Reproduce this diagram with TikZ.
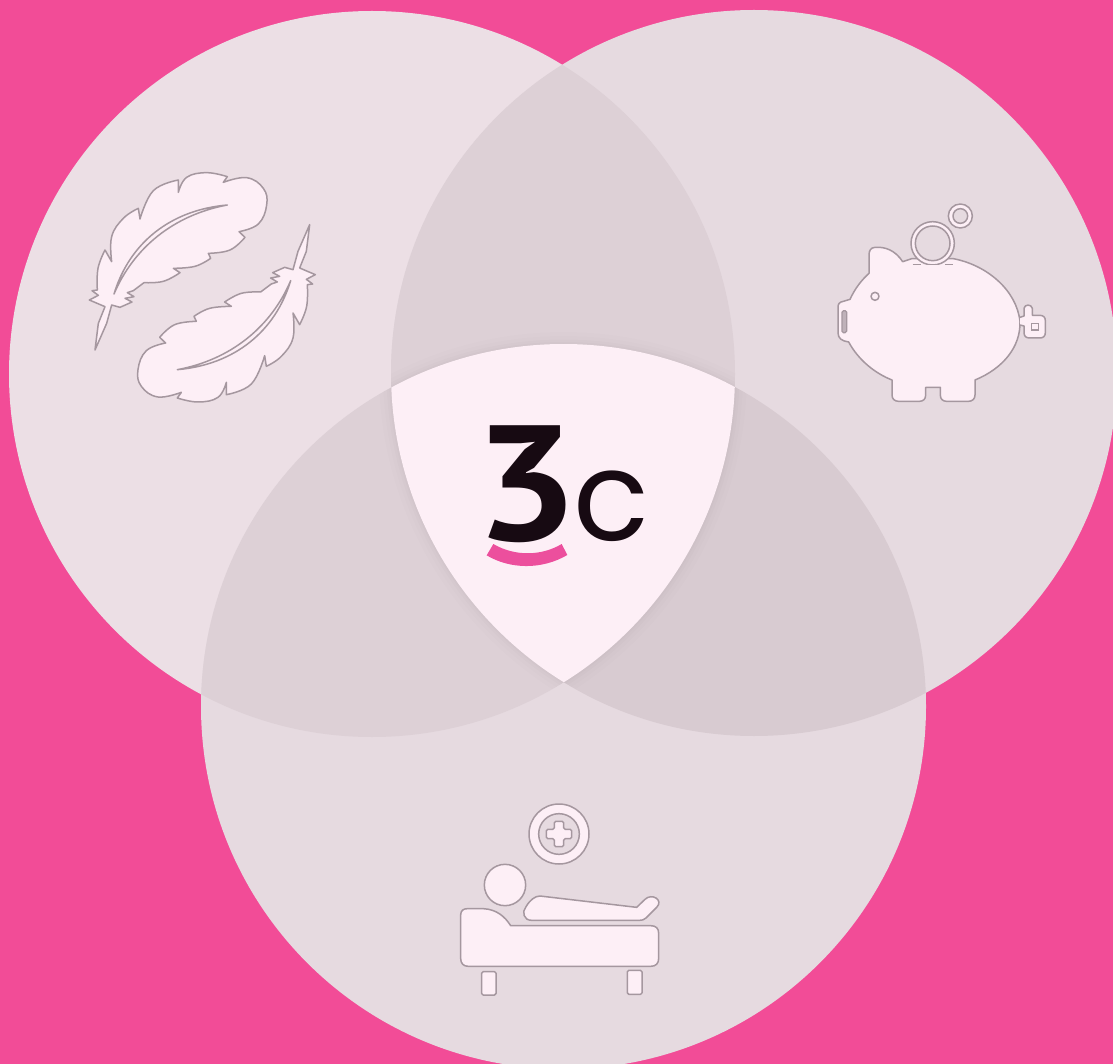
\documentclass[tikz,border=0pt]{standalone}
\usepackage{fontspec}
\setmainfont{Poppins}
\newfontfamily\threefont{PT Sans}
\definecolor{bgpink}{HTML}{F24C97}
\definecolor{leftc}{HTML}{ECDFE5}
\definecolor{rightc}{HTML}{E6DAE0}
\definecolor{overA}{HTML}{DDD0D6}
\definecolor{overB}{HTML}{D8CBD1}
\definecolor{pale}{HTML}{FDEFF6}
\definecolor{ink}{HTML}{A5979F}
\definecolor{logoink}{HTML}{170A12}
\definecolor{smile}{HTML}{EC4F9D}
\tikzset{icon/.style={draw=ink,fill=pale,line width=1.5pt,line join=round},
  zoomA/.style={shift={(70,150)},scale=1/3},
  zoomB/.style={shift={(820,190)},scale=1/3},
  zoomC/.style={shift={(440,790)},scale=1/3},
  zoomD/.style={shift={(460,400)},scale=1/3}}
\newcommand{\circA}{(372,374) circle[radius=363pt]}
\newcommand{\circB}{(754,373) circle[radius=363pt]}
\newcommand{\circC}{(563.5,706.5) circle[radius=362.5pt]}
\newcommand{\featherdrawing}{%
  \path[icon] (75,600) -- (85,520) -- (105,470) -- (58,450) -- (85,436) -- (66,422) -- (82,420)
    -- plot[smooth,tension=.7] coordinates {(82,420) (84,355) (105,300)} -- (125,335)
    -- plot[smooth,tension=.7] coordinates {(125,335) (125,260) (160,205) (205,175)} -- (210,207)
    -- plot[smooth,tension=.7] coordinates {(210,207) (250,122) (325,90)} -- (325,127)
    -- plot[smooth,tension=.7] coordinates {(325,127) (350,82) (410,68) (472,80)} -- (460,97)
    -- plot[smooth,tension=.7] coordinates {(460,97) (530,83) (580,115) (590,165) (565,222) (507,245)} -- (525,262)
    -- plot[smooth,tension=.7] coordinates {(525,262) (480,300) (415,310)} -- (422,325)
    -- plot[smooth,tension=.7] coordinates {(422,325) (375,349) (310,355)} -- (330,368)
    -- plot[smooth,tension=.7] coordinates {(330,368) (280,394) (222,398)} -- (190,422) -- (172,428) -- (192,440) -- (165,445) -- (186,456) -- (150,472) -- (125,465)
    -- (110,520) -- cycle;
  \path[icon] (132,432) .. controls (178,280) and (300,180) .. (472,165)
    .. controls (310,195) and (190,295) .. cycle;}
\begin{document}
\begin{tikzpicture}[x=1pt,y=-1pt]
\useasboundingbox (0,0) rectangle (1113,1064);
\fill[bgpink] (0,0) rectangle (1113,1064);
% circles
\fill[leftc] \circA;
\fill[rightc] \circB;
\fill[rightc] \circC;
\begin{scope}\clip \circA; \fill[overA] \circB; \fill[overA] \circC; \end{scope}
\begin{scope}\clip \circB; \fill[overB] \circC; \end{scope}
% soft shadow round the centre and the centre
\foreach \w/\o in {24/.008,16/.009,9/.01,4/.012}{
  \begin{scope}\clip \circA; \clip \circB; \draw[black,opacity=\o,line width=\w pt] \circC; \end{scope}
  \begin{scope}\clip \circA; \clip \circC; \draw[black,opacity=\o,line width=\w pt] \circB; \end{scope}
  \begin{scope}\clip \circB; \clip \circC; \draw[black,opacity=\o,line width=\w pt] \circA; \end{scope}
}
\begin{scope}\clip \circA; \clip \circB; \fill[pale] \circC; \end{scope}
% feathers
\begin{scope}[zoomA] \featherdrawing \end{scope}
\begin{scope}[zoomA,rotate around={180:(397,412)}] \featherdrawing \end{scope}
% piggy
\begin{scope}[zoomB]
  \path[icon] (70,334) .. controls (58,336) and (54,342) .. (54,352) -- (54,428)
    .. controls (54,445) and (65,453) .. (86,456)
    .. controls (115,510) and (165,550) .. (216,570) -- (216,615)
    .. controls (216,627) and (224,634) .. (236,634) -- (298,634)
    .. controls (310,634) and (317,627) .. (317,615) -- (317,592) -- (361,592) -- (361,615)
    .. controls (361,627) and (368,634) .. (380,634) -- (445,634)
    .. controls (457,634) and (465,627) .. (465,615) -- (465,570)
    .. controls (550,535) and (602,470) .. (600,395)
    .. controls (590,300) and (500,225) .. (400,206) -- (275,206) -- (248,215)
    .. controls (225,180) and (195,170) .. (165,172)
    .. controls (152,173) and (147,182) .. (147,195) -- (147,250)
    .. controls (125,270) and (105,295) .. (90,328) -- cycle;
  \path[icon] (165,319) circle[radius=12pt];
  \draw[ink,fill=ink!70!pale,line width=1.2pt,rounded corners=1.5pt] (66,362) rectangle (80,428);
  \path[icon] (600,382) -- (612,378) -- (612,355) .. controls (614,342) and (634,342) .. (637,355) -- (637,376)
    -- (660,376) .. controls (670,376) and (676,382) .. (676,392) -- (676,428)
    .. controls (676,438) and (670,444) .. (660,444) -- (628,444)
    .. controls (618,444) and (612,438) .. (612,428) -- (612,408) -- (600,405);
  \draw[ink,line width=1.2pt] (635,400) rectangle (655,420);
  \begin{scope}
    \clip (250,80) rectangle (430,224);
    \path[icon] (338,160) circle[radius=65pt];
    \draw[ink,fill=rightc,line width=1.5pt] (338,160) circle[radius=52pt];
  \end{scope}
  \draw[ink,line width=1.5pt] (278,224) -- (302,224) (376,224) -- (400,224);
  \path[icon,even odd rule] (421,78) circle[radius=36pt] (421,78) circle[radius=22pt];
\end{scope}
% bed
\begin{scope}[zoomC]
  \path[icon,even odd rule] (357,132) circle[radius=90pt] (357,132) circle[radius=61pt];
  \path[icon,rounded corners=1.5pt] (343,94) -- (371,94) -- (371,118) -- (395,118) -- (395,146) -- (371,146) -- (371,170) -- (343,170) -- (343,146) -- (319,146) -- (319,118) -- (343,118) -- cycle;
  \path[icon] (195,285) circle[radius=62pt];
  \path[icon] (300,318) -- (590,352) -- (615,328) .. controls (635,308) and (672,330) .. (650,352)
    -- (618,384) .. controls (612,390) and (605,391) .. (598,391) -- (275,391)
    .. controls (250,391) and (245,365) .. (258,350) .. controls (270,330) and (285,318) .. (300,318) -- cycle;
  \path[icon] (62,375) .. controls (62,362) and (70,356) .. (82,356) -- (130,356)
    .. controls (170,358) and (195,380) .. (212,407) -- (632,407)
    .. controls (648,407) and (656,415) .. (656,430) -- (656,505)
    .. controls (656,520) and (648,529) .. (632,529) -- (85,529)
    .. controls (70,529) and (62,520) .. (62,505) -- cycle;
  \path[icon,rounded corners=1.5pt] (125,545) rectangle (168,615);
  \path[icon,rounded corners=1.5pt] (562,541) rectangle (606,613);
\end{scope}
% logo
\node[anchor=base west,inner sep=0pt,text=logoink,xscale=1.12] (three) at (474,540) {\fontsize{164}{164}\selectfont\threefont\bfseries 3};
\node[anchor=base west,inner sep=0pt,text=logoink] (cee) at (573,540) {\fontsize{125}{125}\selectfont c};
\begin{scope}[zoomD]
  \fill[smile] (100,432) .. controls (165,470) and (245,468) .. (305,432) -- (322,465)
    .. controls (245,510) and (150,508) .. (80,466) -- cycle;
\end{scope}
\end{tikzpicture}
\end{document}
